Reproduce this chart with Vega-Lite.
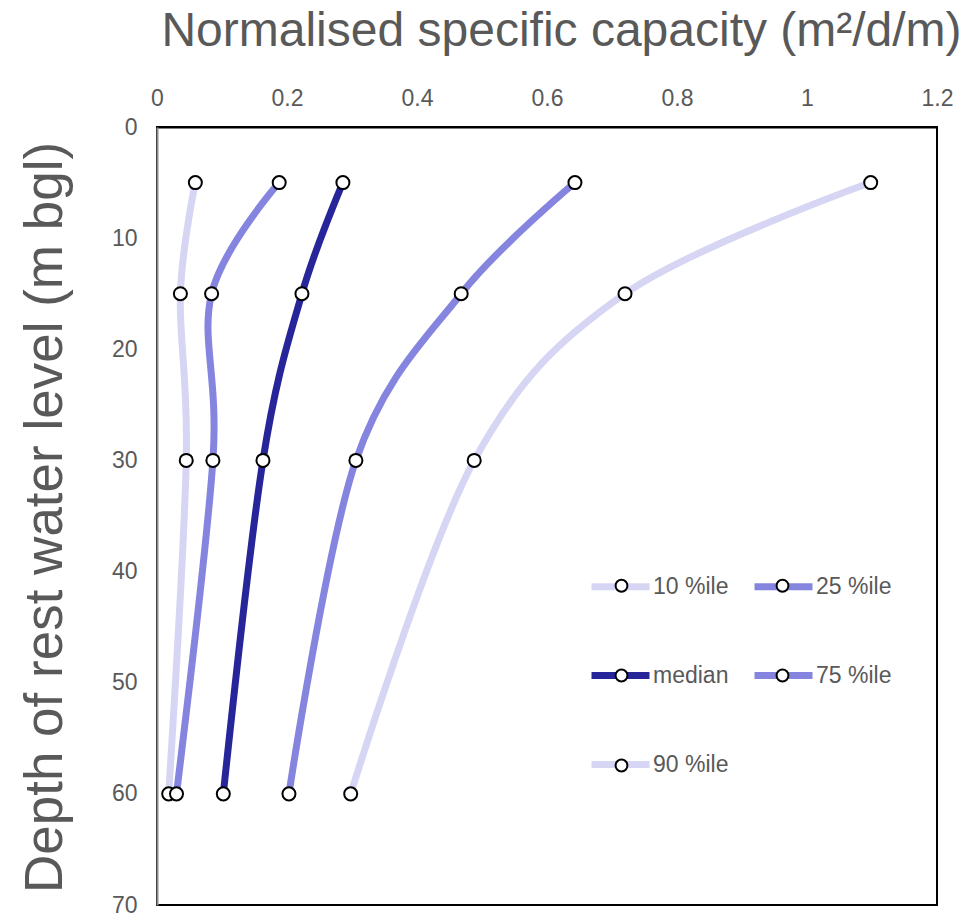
{
  "$schema": "https://vega.github.io/schema/vega-lite/v6.json",
  "width": 780,
  "height": 778,
  "autosize": {"type": "none"},
  "padding": {"left": 157, "top": 127, "right": 29, "bottom": 12},
  "background": "white",
  "config": {
    "view": {"stroke": "black", "strokeWidth": 2},
    "font": "Liberation Sans"
  },
  "data": {
    "values": [
      {"series": "10 %ile", "depth": 5, "capacity": 0.059},
      {"series": "10 %ile", "depth": 15, "capacity": 0.036},
      {"series": "10 %ile", "depth": 30, "capacity": 0.045},
      {"series": "10 %ile", "depth": 60, "capacity": 0.018},
      {"series": "25 %ile", "depth": 5, "capacity": 0.188},
      {"series": "25 %ile", "depth": 15, "capacity": 0.084},
      {"series": "25 %ile", "depth": 30, "capacity": 0.086},
      {"series": "25 %ile", "depth": 60, "capacity": 0.030},
      {"series": "median", "depth": 5, "capacity": 0.286},
      {"series": "median", "depth": 15, "capacity": 0.223},
      {"series": "median", "depth": 30, "capacity": 0.163},
      {"series": "median", "depth": 60, "capacity": 0.102},
      {"series": "75 %ile", "depth": 5, "capacity": 0.643},
      {"series": "75 %ile", "depth": 15, "capacity": 0.468},
      {"series": "75 %ile", "depth": 30, "capacity": 0.306},
      {"series": "75 %ile", "depth": 60, "capacity": 0.203},
      {"series": "90 %ile", "depth": 5, "capacity": 1.098},
      {"series": "90 %ile", "depth": 15, "capacity": 0.72},
      {"series": "90 %ile", "depth": 30, "capacity": 0.488},
      {"series": "90 %ile", "depth": 60, "capacity": 0.298}
    ]
  },
  "encoding": {
    "x": {
      "field": "capacity",
      "type": "quantitative",
      "scale": {"domain": [0, 1.2], "nice": false},
      "axis": {
        "orient": "top",
        "title": "Normalised specific capacity (m²/d/m)",
        "titleFontSize": 48,
        "titleFontWeight": "normal",
        "titleColor": "#595959",
        "titleX": 404,
        "titleY": -82,
        "titleAlign": "center",
        "titleBaseline": "alphabetic",
        "values": [0, 0.2, 0.4, 0.6, 0.8, 1, 1.2],
        "format": "~g",
        "labelFontSize": 23,
        "labelColor": "#595959",
        "labelFlush": false,
        "labelPadding": 17,
        "ticks": false,
        "tickSize": 0,
        "grid": false,
        "domainColor": "black",
        "domainWidth": 2
      }
    },
    "y": {
      "field": "depth",
      "type": "quantitative",
      "scale": {"domain": [0, 70], "reverse": true, "nice": false},
      "axis": {
        "title": "Depth of rest water level (m bgl)",
        "titleFontSize": 53,
        "titleFontWeight": "normal",
        "titleColor": "#595959",
        "titleAngle": -90,
        "titleX": -96,
        "titleY": 390,
        "titleAlign": "center",
        "titleBaseline": "alphabetic",
        "values": [0, 10, 20, 30, 40, 50, 60, 70],
        "labelFontSize": 23,
        "labelColor": "#595959",
        "labelPadding": 20,
        "ticks": false,
        "tickSize": 0,
        "grid": false,
        "domainColor": "#8c8c8c",
        "domainWidth": 2
      }
    }
  },
  "layer": [
    {
      "mark": {"type": "line", "interpolate": "cardinal", "strokeWidth": 7, "strokeCap": "round", "strokeJoin": "round"},
      "encoding": {
        "color": {
          "field": "series",
          "type": "nominal",
          "scale": {
            "domain": ["10 %ile", "25 %ile", "median", "75 %ile", "90 %ile"],
            "range": ["#d6d6f4", "#8585e0", "#26269a", "#8585e0", "#d6d6f4"]
          },
          "legend": {
            "orient": "none",
            "direction": "horizontal",
            "legendX": 431,
            "legendY": 427,
            "columns": 2,
            "title": null,
            "padding": 0,
            "symbolType": "stroke",
            "symbolSize": 3364,
            "symbolStrokeWidth": 7,
            "labelFontSize": 23,
            "labelColor": "#595959",
            "labelOffset": 0,
            "columnPadding": 11,
            "rowPadding": 42
          }
        },
        "order": {"field": "depth", "type": "quantitative"}
      }
    },
    {
      "transform": [{"calculate": "datum.series", "as": "s2"}],
      "mark": {"type": "point", "shape": "circle", "filled": false, "fill": "white", "strokeWidth": 2, "size": 170, "opacity": 1},
      "encoding": {
        "stroke": {
          "field": "s2",
          "type": "nominal",
          "sort": ["10 %ile", "25 %ile", "median", "75 %ile", "90 %ile"],
          "scale": {"range": ["black"]},
          "legend": {
            "orient": "none",
            "direction": "horizontal",
            "legendX": 453,
            "legendY": 447,
            "columns": 2,
            "title": null,
            "padding": 0,
            "zindex": 2,
            "symbolType": "circle",
            "symbolSize": 140,
            "symbolStrokeWidth": 2,
            "symbolFillColor": "white",
            "symbolOpacity": 1,
            "labelFontSize": 23,
            "labelColor": "transparent",
            "labelOffset": 26,
            "columnPadding": 36,
            "rowPadding": 66
          }
        }
      }
    }
  ]
}
